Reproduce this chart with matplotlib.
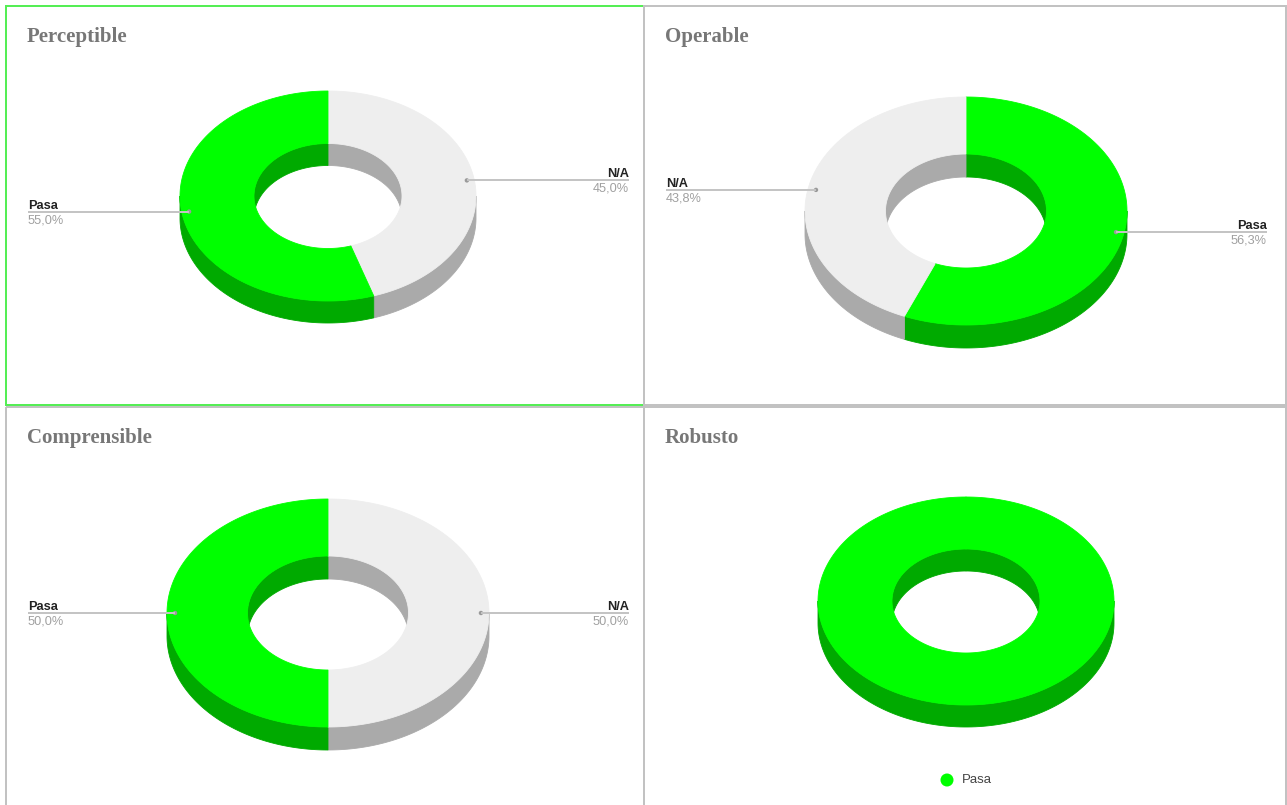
"""
Cuatro donas 3D con los resultados por principio (Perceptible, Operable, ...)
"""

import numpy as np
import matplotlib

matplotlib.use("Agg")
import matplotlib.pyplot as plt
from matplotlib.patches import Polygon, Rectangle, Circle

# datos: orden de las porciones en sentido horario desde arriba
titles = ["Perceptible", "Operable", "Comprensible", "Robusto"]
perceptible_labels = ["N/A", "Pasa"]
perceptible_values = [45.0, 55.0]
operable_labels = ["Pasa", "N/A"]
operable_values = [56.3, 43.8]
comprensible_labels = ["N/A", "Pasa"]
comprensible_values = [50.0, 50.0]
robusto_labels = ["Pasa"]
robusto_values = [100.0]

top_colors = {"Pasa": "#00ff00", "N/A": "#eeeeee"}
side_colors = {"Pasa": "#00aa00", "N/A": "#aaaaaa"}

W, H = 1287, 805
fig = plt.figure(figsize=(W / 100, H / 100), dpi=100)
ax = fig.add_axes([0, 0, 1, 1])
ax.set_xlim(0, W)
ax.set_ylim(H, 0)
ax.axis("off")

PX = 0.72  # un pixel en puntos


def pts(cx, cy, rx, ry, r, t0, t1, n=120):
    t = np.radians(np.linspace(t0, t1, n))
    return np.column_stack([cx + rx * r * np.cos(t), cy - ry * r * np.sin(t)])


def clip(a, b, lo, hi):
    """partes de [a, b] que caen en [lo + 360k, hi + 360k]"""
    out = []
    for k in range(-2, 3):
        s, e = max(a, lo + 360 * k), min(b, hi + 360 * k)
        if e > s:
            out.append((s, e))
    return out


def poly(xy, color):
    ax.add_patch(Polygon(xy, closed=True, fc=color, ec=color, lw=0.6))


def donut(labels, values, box, cx, cy, rx, ry, depth, hole=0.5, show_labels=True):
    total = sum(values)
    start = 90.0
    slices = []
    for lab, v in zip(labels, values):
        end = start - v / total * 360.0
        slices.append((lab, v, end, start))
        start = end

    # pared exterior (mitad delantera)
    for lab, v, a, b in slices:
        for s, e in clip(a, b, 180, 360):
            top = pts(cx, cy, rx, ry, 1.0, s, e)
            bot = top[::-1] + [0, depth]
            poly(np.vstack([top, bot]), side_colors[lab])
    # pared interior (mitad trasera)
    for lab, v, a, b in slices:
        for s, e in clip(a, b, 0, 180):
            top = pts(cx, cy, rx, ry, hole, s, e)
            bot = top[::-1] + [0, depth]
            poly(np.vstack([top, bot]), side_colors[lab])
    # caras superiores
    for lab, v, a, b in slices:
        outer = pts(cx, cy, rx, ry, 1.0, a, b, 240)
        inner = pts(cx, cy, rx, ry, hole, b, a, 240)
        poly(np.vstack([outer, inner]), top_colors[lab])

    if not show_labels:
        return
    x0, x1 = box
    for lab, v, a, b in slices:
        mid = np.radians((a + b) / 2)
        axp = cx + rx * 0.95 * np.cos(mid)
        ayp = cy - ry * 0.95 * np.sin(mid)
        left = np.cos(mid) < 0
        xe = x0 if left else x1
        ax.plot([xe, axp], [ayp, ayp], color="#c4c4c4", lw=2 * PX,
                solid_capstyle="butt")
        ax.add_patch(Circle((axp, ayp), 2.2, fc="#9a9a9a", ec="none"))
        ha = "left" if left else "right"
        ax.text(xe, ayp - 3, lab, ha=ha, va="baseline", fontsize=9.2,
                fontweight="bold", color="#222222", family="Liberation Sans")
        pct = f"{v:.1f}".replace(".", ",") + "%"
        ax.text(xe, ayp + 2.5, pct, ha=ha, va="top", fontsize=9.2,
                color="#a0a0a0", family="Liberation Sans")


# marcos de los paneles
panels = [(6, 6, 638, 399), (644, 6, 642, 399), (6, 407, 638, 410), (644, 407, 642, 410)]
for i, (x, y, w, h) in enumerate(panels):
    col = "#55ee55" if i == 0 else "#c2c2c2"
    ax.add_patch(Rectangle((x, y), w, h, fill=False, ec=col, lw=2 * PX))
    ax.text(x + 21, y + 36, titles[i], ha="left", va="baseline", fontsize=15,
            fontweight="bold", color="#777777", family="Liberation Serif")

donut(perceptible_labels, perceptible_values, (28, 629), 328, 196, 148, 105, 22)
donut(operable_labels, operable_values, (666, 1267), 966, 211, 161, 114, 23)
donut(comprensible_labels, comprensible_values, (28, 629), 328, 613, 161, 114, 23)
donut(robusto_labels, robusto_values, (666, 1267), 966, 601, 148, 104, 22,
      show_labels=False)

# leyenda de Robusto
ax.add_patch(Circle((947, 780), 6.5, fc=top_colors["Pasa"], ec="none"))
ax.text(962, 780, robusto_labels[0], ha="left", va="center", fontsize=9.5,
        color="#444444", family="Liberation Sans")

fig.savefig("out.png", dpi=100)
